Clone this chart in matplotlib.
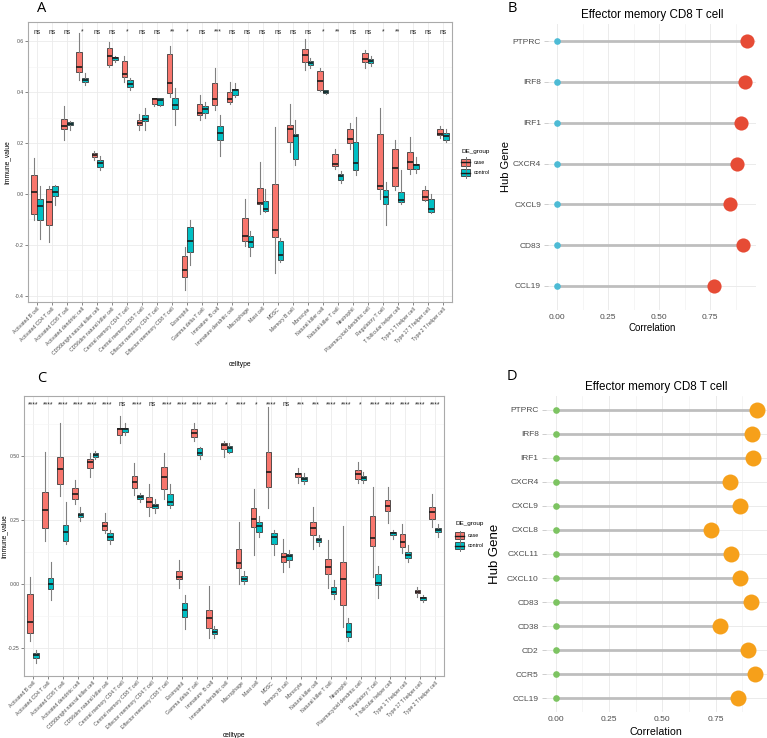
import matplotlib
matplotlib.use("Agg")
import matplotlib.pyplot as plt
from matplotlib.patches import Rectangle
from matplotlib.ticker import MultipleLocator
import numpy as np

plt.rcParams['font.family'] = ['Liberation Sans', 'DejaVu Sans']
plt.rcParams['axes.unicode_minus'] = False

cell_types = ['Activated B cell', 'Activated CD4 T cell', 'Activated CD8 T cell',
              'Activated dendritic cell', 'CD56bright natural killer cell',
              'CD56dim natural killer cell', 'Central memory CD4 T cell',
              'Central memory CD8 T cell', 'Effector memeory CD4 T cell',
              'Effector memeory CD8 T cell', 'Eosinophil', 'Gamma delta T cell',
              'Immature  B cell', 'Immature dendritic cell', 'Macrophage', 'Mast cell',
              'MDSC', 'Memory B cell', 'Monocyte', 'Natural killer cell',
              'Natural killer T cell', 'Neutrophil', 'Plasmacytoid dendritic cell',
              'Regulatory T cell', 'T follicular helper cell', 'Type 1 T helper cell',
              'Type 17 T helper cell', 'Type 2 T helper cell']

a_sig = ['ns', 'ns', 'ns', '*', 'ns', 'ns', '*', 'ns', 'ns', '**', '*', 'ns', '***', 'ns',
         'ns', 'ns', 'ns', 'ns', 'ns', '*', '**', 'ns', 'ns', '*', '**', 'ns', 'ns', 'ns']
c_sig = ['****', '****', '****', '****', '****', '****', 'ns', '****', 'ns', '****', '****',
         '****', '****', '*', '****', '*', '****', 'ns', '***', '***', '****', '****', '*',
         '****', '****', '****', '****', '****']

# (lower whisker, Q1, median, Q3, upper whisker)
a_case = [(-0.104, -0.078, 0.007, 0.076, 0.141), (-0.187, -0.121, -0.032, 0.020, 0.033),
          (0.213, 0.256, 0.266, 0.293, 0.344), (0.449, 0.479, 0.499, 0.558, 0.630),
          (0.135, 0.145, 0.154, 0.162, 0.168), (0.499, 0.508, 0.542, 0.571, 0.597),
          (0.440, 0.460, 0.469, 0.521, 0.542), (0.253, 0.269, 0.280, 0.292, 0.315),
          (0.344, 0.355, 0.372, 0.377, 0.378), (0.381, 0.397, 0.437, 0.548, 0.581),
          (-0.377, -0.327, -0.298, -0.245, -0.209), (0.292, 0.309, 0.318, 0.352, 0.390),
          (0.328, 0.348, 0.371, 0.436, 0.493), (0.355, 0.361, 0.374, 0.400, 0.440),
          (-0.203, -0.183, -0.163, -0.094, -0.019), (-0.078, -0.041, -0.035, 0.025, 0.125),
          (-0.312, -0.167, -0.141, 0.040, 0.263), (0.164, 0.204, 0.256, 0.272, 0.355),
          (0.486, 0.519, 0.545, 0.568, 0.607), (0.404, 0.410, 0.443, 0.482, 0.493),
          (0.099, 0.109, 0.119, 0.155, 0.175), (0.178, 0.200, 0.217, 0.256, 0.279),
          (0.493, 0.519, 0.528, 0.555, 0.565), (-0.019, 0.020, 0.033, 0.237, 0.339),
          (0.017, 0.033, 0.103, 0.178, 0.210), (0.079, 0.099, 0.125, 0.164, 0.223),
          (-0.028, -0.023, -0.013, 0.014, 0.030), (0.221, 0.230, 0.237, 0.254, 0.266)]
a_control = [(-0.176, -0.101, -0.049, -0.020, 0.033), (-0.045, -0.006, 0.007, 0.030, 0.036),
             (0.250, 0.270, 0.276, 0.281, 0.287), (0.427, 0.440, 0.447, 0.456, 0.473),
             (0.096, 0.105, 0.121, 0.135, 0.151), (0.519, 0.524, 0.532, 0.537, 0.541),
             (0.410, 0.418, 0.433, 0.449, 0.457), (0.250, 0.285, 0.296, 0.309, 0.339),
             (0.344, 0.351, 0.368, 0.377, 0.378), (0.270, 0.335, 0.348, 0.378, 0.414),
             (-0.279, -0.226, -0.186, -0.131, -0.104), (0.300, 0.318, 0.332, 0.344, 0.361),
             (0.148, 0.210, 0.239, 0.266, 0.309), (0.381, 0.390, 0.407, 0.412, 0.436),
             (-0.242, -0.209, -0.190, -0.163, -0.144), (-0.072, -0.065, -0.058, -0.028, 0.020),
             (-0.268, -0.258, -0.238, -0.186, -0.172), (0.115, 0.138, 0.226, 0.237, 0.289),
             (0.493, 0.508, 0.516, 0.522, 0.534), (0.391, 0.397, 0.400, 0.407, 0.410),
             (0.043, 0.056, 0.069, 0.079, 0.090), (0.073, 0.095, 0.121, 0.204, 0.302),
             (0.503, 0.516, 0.522, 0.528, 0.541), (-0.121, -0.039, -0.013, 0.017, 0.046),
             (-0.039, -0.032, -0.023, 0.007, 0.095), (0.082, 0.099, 0.112, 0.119, 0.145),
             (-0.075, -0.072, -0.058, -0.019, 0.001), (0.204, 0.213, 0.226, 0.239, 0.256)]

c_case = [(-0.221, -0.193, -0.147, -0.040, 0.029), (0.168, 0.217, 0.289, 0.361, 0.517),
          (0.345, 0.389, 0.448, 0.495, 0.630), (0.313, 0.331, 0.350, 0.376, 0.406),
          (0.417, 0.452, 0.478, 0.488, 0.510), (0.200, 0.211, 0.228, 0.241, 0.276),
          (0.549, 0.582, 0.604, 0.611, 0.654), (0.348, 0.374, 0.400, 0.422, 0.474),
          (0.267, 0.302, 0.321, 0.341, 0.389), (0.332, 0.370, 0.417, 0.458, 0.513),
          (-0.017, 0.018, 0.029, 0.051, 0.094), (0.560, 0.575, 0.591, 0.604, 0.628),
          (-0.212, -0.173, -0.134, -0.102, -0.007), (0.497, 0.526, 0.543, 0.549, 0.560),
          (0.000, 0.061, 0.083, 0.135, 0.243), (0.113, 0.221, 0.254, 0.296, 0.372),
          (0.296, 0.380, 0.436, 0.514, 0.690), (0.046, 0.087, 0.107, 0.122, 0.175),
          (0.396, 0.417, 0.430, 0.435, 0.452), (0.137, 0.191, 0.217, 0.241, 0.302),
          (-0.014, 0.038, 0.065, 0.096, 0.172), (-0.167, -0.082, 0.020, 0.085, 0.227),
          (0.393, 0.410, 0.430, 0.445, 0.478), (0.029, 0.148, 0.178, 0.266, 0.380),
          (0.237, 0.286, 0.305, 0.328, 0.378), (0.120, 0.146, 0.165, 0.194, 0.233),
          (-0.052, -0.036, -0.030, -0.023, -0.013), (0.224, 0.253, 0.280, 0.300, 0.352)]
c_control = [(-0.310, -0.288, -0.277, -0.268, -0.258), (-0.063, -0.021, -0.001, 0.025, 0.087),
             (0.155, 0.169, 0.204, 0.230, 0.321), (0.247, 0.260, 0.270, 0.279, 0.300),
             (0.487, 0.495, 0.504, 0.513, 0.521), (0.155, 0.172, 0.185, 0.198, 0.211),
             (0.582, 0.595, 0.604, 0.611, 0.630), (0.321, 0.332, 0.341, 0.348, 0.357),
             (0.276, 0.296, 0.305, 0.311, 0.332), (0.296, 0.309, 0.321, 0.350, 0.389),
             (-0.177, -0.128, -0.102, -0.075, -0.043), (0.487, 0.504, 0.513, 0.530, 0.536),
             (-0.212, -0.195, -0.186, -0.177, -0.164), (0.510, 0.517, 0.532, 0.540, 0.549),
             (0.000, 0.012, 0.020, 0.031, 0.051), (0.182, 0.204, 0.227, 0.243, 0.266),
             (0.113, 0.156, 0.182, 0.200, 0.211), (0.068, 0.094, 0.109, 0.117, 0.133),
             (0.389, 0.402, 0.410, 0.419, 0.435), (0.150, 0.163, 0.172, 0.178, 0.191),
             (-0.059, -0.039, -0.030, -0.013, 0.016), (-0.221, -0.206, -0.189, -0.151, -0.134),
             (0.396, 0.406, 0.415, 0.422, 0.439), (-0.056, -0.002, 0.004, 0.039, 0.072),
             (0.175, 0.191, 0.198, 0.204, 0.211), (0.085, 0.100, 0.113, 0.124, 0.152),
             (-0.071, -0.063, -0.056, -0.050, -0.043), (0.185, 0.204, 0.211, 0.220, 0.233)]

b_genes = ['PTPRC', 'IRF8', 'IRF1', 'CXCR4', 'CXCL9', 'CD83', 'CCL19']
b_corr = [0.928, 0.920, 0.899, 0.879, 0.847, 0.909, 0.768]
d_genes = ['PTPRC', 'IRF8', 'IRF1', 'CXCR4', 'CXCL9', 'CXCL8', 'CXCL11', 'CXCL10',
           'CD83', 'CD38', 'CD2', 'CCR5', 'CCL19']
d_corr = [0.944, 0.922, 0.925, 0.819, 0.863, 0.730, 0.821, 0.863, 0.917, 0.772, 0.902,
          0.933, 0.855]

CASE_COL = '#F8766D'
CTRL_COL = '#00BFC4'
W, H = 767, 738
fig = plt.figure(figsize=(W / 100, H / 100), dpi=100)


def px_axes(l, t, r, b):
    return fig.add_axes([l / W, 1 - b / H, (r - l) / W, (b - t) / H])


def box_panel(ax, case, ctrl, sig, ylim, step, fmt, sig_y, xlab_y, ylab_x):
    x = np.arange(1, len(cell_types) + 1)
    for stats, off, col in ((case, -0.1875, CASE_COL), (ctrl, 0.1875, CTRL_COL)):
        st = [dict(whislo=s[0], q1=s[1], med=s[2], q3=s[3], whishi=s[4], fliers=[]) for s in stats]
        ax.bxp(st, positions=x + off, widths=0.375, patch_artist=True, showcaps=False,
               showfliers=False, manage_ticks=False,
               boxprops=dict(facecolor=col, edgecolor='#3a3a3a', linewidth=0.6),
               medianprops=dict(color='#1a1a1a', linewidth=1.2),
               whiskerprops=dict(color='#808080', linewidth=0.8))
    for xi, s in zip(x, sig):
        ax.text(xi, sig_y, s, ha='center', va='center', fontsize=4.8, color='#222222')
    ax.set_xlim(0.4, len(cell_types) + 0.6)
    ax.set_ylim(*ylim)
    ax.set_xticks(x)
    ax.set_xticklabels(cell_types, rotation=45, ha='right', rotation_mode='anchor')
    ax.yaxis.set_major_locator(MultipleLocator(step))
    ax.yaxis.set_minor_locator(MultipleLocator(step / 2))
    ax.yaxis.set_major_formatter(fmt)
    ax.set_axisbelow(True)
    ax.grid(which='major', color='#EBEBEB', linewidth=0.6)
    ax.grid(which='minor', axis='y', color='#F4F4F4', linewidth=0.4)
    ax.tick_params(which='major', labelsize=3.7, labelcolor='#4D4D4D', length=2,
                   width=0.5, color='#555555', pad=1)
    ax.tick_params(which='minor', length=0)
    for sp in ax.spines.values():
        sp.set_color('#AAAAAA')
        sp.set_linewidth(0.8)
    ax.set_xlabel('celltype', fontsize=4.8)
    ax.set_ylabel('Immune_value', fontsize=4.8)
    ax.xaxis.set_label_coords(0.5, xlab_y)
    ax.yaxis.set_label_coords(ylab_x, 0.5)


def lollipop(ax, genes, corr, low_col, high_col, high_ms, ylim, xlim, ylab_size,
             ylab_x, xlab_y, xlab_size):
    y = np.arange(len(genes))
    ax.hlines(y, 0, corr, color='#BEBEBE', linewidth=2.0, zorder=2)
    ax.plot(np.zeros(len(genes)), y, 'o', color=low_col, ms=4.8, mec='none', zorder=3)
    ax.plot(corr, y, 'o', color=high_col, ms=high_ms, mec='none', zorder=4)
    ax.set_yticks(y)
    ax.set_yticklabels(genes)
    ax.set_ylim(*ylim)
    ax.set_xlim(*xlim)
    ax.set_xticks([0, 0.25, 0.5, 0.75])
    ax.set_xticklabels(['0.00', '0.25', '0.50', '0.75'])
    ax.xaxis.set_minor_locator(MultipleLocator(0.125))
    ax.set_axisbelow(True)
    ax.grid(which='major', color='#EBEBEB', linewidth=0.7)
    ax.grid(which='minor', axis='x', color='#F2F2F2', linewidth=0.5)
    ax.tick_params(axis='y', labelsize=6, labelcolor='#4D4D4D', length=3, width=0.5,
                   color='#BBBBBB', pad=2)
    ax.tick_params(axis='x', which='both', labelsize=6, labelcolor='#4D4D4D', length=0, pad=3)
    for sp in ax.spines.values():
        sp.set_visible(False)
    ax.set_title('Effector memory CD8 T cell', fontsize=8.4, pad=4)
    ax.set_ylabel('Hub Gene', fontsize=ylab_size)
    ax.set_xlabel('Correlation', fontsize=xlab_size)
    ax.yaxis.set_label_coords(ylab_x, 0.5)
    ax.xaxis.set_label_coords(0.5, xlab_y)


ax_a = px_axes(28, 22, 452, 302)
box_panel(ax_a, a_case, a_control, a_sig, (-0.424, 0.675), 0.2, '{x:.1f}', 0.635,
          -0.21, -0.042)
ax_c = px_axes(24, 396, 444, 676)
box_panel(ax_c, c_case, c_control, c_sig, (-0.359, 0.734), 0.25, '{x:.2f}', 0.699,
          -0.20, -0.039)

ax_b = px_axes(548, 24, 756, 310)
lollipop(ax_b, b_genes, b_corr, '#4DBBD5', '#E64B35', 10.2, (6.59, -0.42),
         (-0.046, 0.974), 8, -0.18, -0.045, 7)
ax_d = px_axes(545.6, 396, 767, 712)
lollipop(ax_d, d_genes, d_corr, '#7DC462', '#F6A01A', 11.5, (12.58, -0.58),
         (-0.047, 0.991), 9.5, -0.2, -0.046, 7.7)

# overlay in pixel coordinates for panel letters and legends
ov = fig.add_axes([0, 0, 1, 1])
ov.set_xlim(0, W)
ov.set_ylim(H, 0)
ov.axis('off')
for letter, lx, ly in (('A', 42, 8), ('B', 512, 8), ('C', 42, 378), ('D', 512, 377)):
    ov.text(lx, ly, letter, fontsize=10.5, ha='center', va='center', family='Open Sans')


def legend(x, y_title, y_keys):
    ov.text(x, y_title, 'DE_group', fontsize=4.6, ha='left', va='center')
    for yk, col, lab in zip(y_keys, (CASE_COL, CTRL_COL), ('case', 'control')):
        ov.plot([x + 4.5, x + 4.5], [yk - 5, yk + 5], color='#777777', lw=0.7)
        ov.add_patch(Rectangle((x, yk - 3.5), 9, 7, facecolor=col, edgecolor='#3a3a3a', lw=0.6))
        ov.plot([x, x + 9], [yk, yk], color='#1a1a1a', lw=1.0)
        ov.text(x + 12.5, yk, lab, fontsize=3.8, ha='left', va='center')


legend(461, 151, (162, 172.5))
legend(455, 524, (535.7, 545.7))

fig.savefig('out.png', dpi=100)
